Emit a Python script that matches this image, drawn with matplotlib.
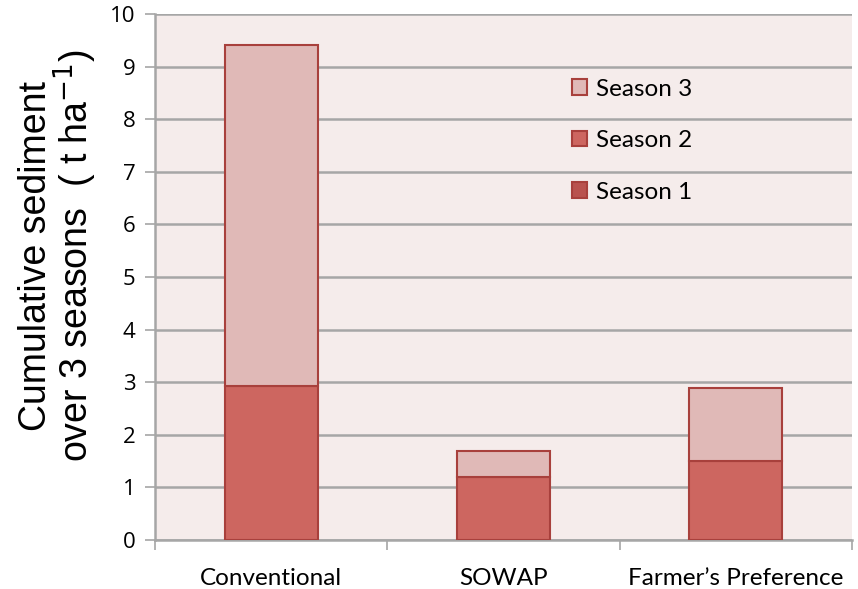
import matplotlib
matplotlib.use("Agg")
import matplotlib.pyplot as plt
import numpy as np

categories = ["Conventional", "SOWAP", "Farmer\u2019s Preference"]
season_1 = [0.0, 0.0, 0.0]
season_2 = [2.93, 1.20, 1.50]
season_3 = [6.49, 0.49, 1.39]

seasons = [
    ("Season 1", season_1, "#B9524E"),
    ("Season 2", season_2, "#CD6660"),
    ("Season 3", season_3, "#E0B9B7"),
]
EDGE = "#A8403C"
GRID = "#A6A6A6"

fig = plt.figure(figsize=(8.58, 5.89), dpi=100)
ax = fig.add_axes([155 / 858, 1 - 540 / 589, 697 / 858, 526 / 589])
ax.set_facecolor("#F5ECEB")

x = np.arange(len(categories))
bottom = np.zeros(len(categories))
handles = []
for name, vals, color in seasons:
    vals = np.array(vals)
    bars = ax.bar(x, vals, width=0.4, bottom=bottom, color=color,
                  edgecolor=EDGE, linewidth=1.5, label=name, zorder=3)
    handles.append(bars)
    bottom += vals

ax.set_xlim(-0.5, len(categories) - 0.5)
ax.set_ylim(0, 10)
ax.set_yticks(range(0, 11))
ax.yaxis.grid(True, color=GRID, linewidth=1.8, zorder=0)
ax.set_axisbelow(True)

# category ticks sit between the groups, labels at the centres
ax.set_xticks(np.arange(-0.5, len(categories)), minor=False)
ax.set_xticklabels([])
ax.set_xticks(x, minor=True)
ax.set_xticklabels(categories, minor=True, fontsize=17.5, family="Lato")
ax.tick_params(axis="x", which="major", length=7, width=1.2, color=GRID, direction="out")
ax.tick_params(axis="x", which="minor", length=0, pad=20)
ax.tick_params(axis="y", length=7, width=1.2, color=GRID, direction="out",
               labelsize=16, pad=7)
for lbl in ax.get_yticklabels():
    lbl.set_family("Open Sans")

for side in ("top", "right"):
    ax.spines[side].set_visible(False)
for side in ("left", "bottom"):
    ax.spines[side].set_color(GRID)
    ax.spines[side].set_linewidth(1.8)

ax.set_ylabel("Cumulative sediment\nover 3 seasons  ( t ha$^{-1}$)",
              fontsize=27, family="Liberation Sans", linespacing=0.92)
ax.yaxis.set_label_coords(-0.080, 0.54)

leg = ax.legend(handles=handles[::-1], labels=[s[0] for s in seasons][::-1],
                loc="upper left", bbox_to_anchor=(0.581, 0.9), frameon=False,
                prop={"family": "Lato", "size": 17.5}, labelspacing=1.25,
                borderpad=0, handlelength=0.6, handleheight=0.6, handletextpad=0.4)

fig.savefig("out.png", dpi=100, facecolor="white")
